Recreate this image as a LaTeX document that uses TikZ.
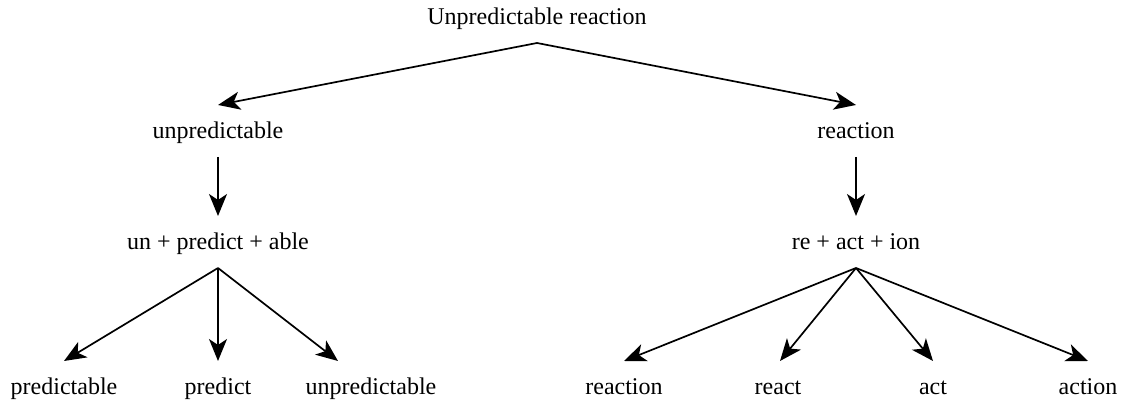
\documentclass[tikz,border=0pt]{standalone}
\usepackage{fontspec}
\setmainfont{Liberation Serif}
\usetikzlibrary{arrows.meta}
\begin{document}
\begin{tikzpicture}[x=1pt,y=1pt,
  word/.style={anchor=base,inner sep=0pt,outer sep=0pt,text height=34pt,text depth=18pt,font=\fontsize{24}{28}\selectfont},
  link/.style={line width=1.7pt,-{Stealth[length=22pt,width=18pt,inset=6pt]}}]
\useasboundingbox (0,0) rectangle (1124,403);
\node[word] (top) at (537,378) {Unpredictable reaction};
\node[word] (u1) at (218,264) {unpredictable};
\node[word] (r1) at (856,264) {reaction};
\node[word] (u2) at (218,153) {un + predict + able};
\node[word] (r2) at (856,153) {re + act + ion};
\node[word] (p1) at (64,8) {predictable};
\node[word] (p2) at (218,8) {predict};
\node[word] (p3) at (371,8) {unpredictable};
\node[word] (a1) at (624,8) {reaction};
\node[word] (a2) at (778,8) {react};
\node[word] (a3) at (933,8) {act};
\node[word] (a4) at (1088,8) {action};
\draw[link] (top.south) -- (u1.north);
\draw[link] (top.south) -- (r1.north);
\draw[link] (u1.south) -- (u2.north);
\draw[link] (r1.south) -- (r2.north);
\draw[link] (u2.south) -- (p1.north);
\draw[link] (u2.south) -- (p2.north);
\draw[link] (u2.south) -- ([xshift=-33pt]p3.north);
\draw[link] (r2.south) -- (a1.north);
\draw[link] (r2.south) -- ([xshift=2pt]a2.north);
\draw[link] (r2.south) -- (a3.north);
\draw[link] (r2.south) -- (a4.north);
\end{tikzpicture}
\end{document}
